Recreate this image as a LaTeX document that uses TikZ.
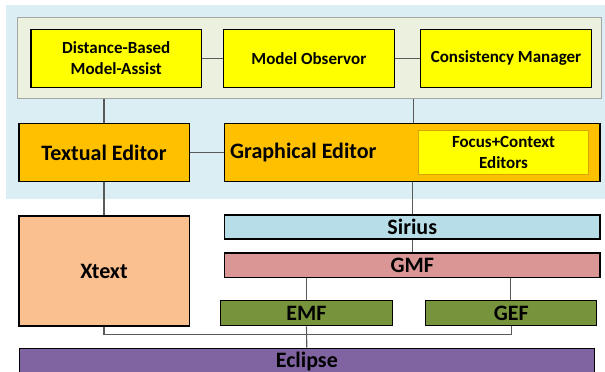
\documentclass[tikz,border=0pt]{standalone}
\usepackage{fontspec}
\setmainfont{Carlito}
\usetikzlibrary{calc}
\definecolor{bgblue}{HTML}{DAEEF3}
\definecolor{panelc}{HTML}{EBF1DE}
\definecolor{panelb}{HTML}{A6A6A6}
\definecolor{yel}{HTML}{FFFF00}
\definecolor{orng}{HTML}{FFC000}
\definecolor{focb}{HTML}{D9A400}
\definecolor{xtc}{HTML}{FAC090}
\definecolor{sirc}{HTML}{B7DEE8}
\definecolor{gmfc}{HTML}{D99694}
\definecolor{grnc}{HTML}{77933C}
\definecolor{eclc}{HTML}{8064A2}
\definecolor{linec}{HTML}{595959}
\tikzset{
  box/.style={draw=black, line width=1.5pt, inner sep=0pt, align=center, font=\bfseries\fontsize{22}{26}\selectfont},
  smallbox/.style={box, font=\bfseries\fontsize{17}{20.5}\selectfont},
  conn/.style={draw=linec, line width=1.1pt},
}
\begin{document}
\begin{tikzpicture}[x=1pt,y=-1pt]
\useasboundingbox (0,0) rectangle (605,372);
% backgrounds
\node[fill=bgblue, minimum width=600pt, minimum height=193.5pt, inner sep=0pt, anchor=north west] (bg) at (6,5) {};
\node[fill=panelc, draw=panelb, line width=0.8pt, minimum width=584pt, minimum height=81.4pt, inner sep=0pt] (panel) at (309.6,58) {};
% top row
\node[smallbox, fill=yel, minimum width=170.4pt, minimum height=58pt] (dist) at (116.2,58.3) {Distance-Based\\Model-Assist};
\node[smallbox, fill=yel, minimum width=170.8pt, minimum height=58pt] (model) at (308.9,58.3) {Model Observor};
\node[smallbox, fill=yel, minimum width=171pt, minimum height=58pt] (cons) at (506,58.3) {Consistency Manager};
% editors
\node[box, fill=orng, minimum width=170.5pt, minimum height=57.8pt] (textual) at (104,152.5) {Textual Editor};
\node[box, fill=orng, minimum width=375.5pt, minimum height=57.8pt] (graphical) at (412.25,152.5) {};
\node[anchor=west, inner sep=0pt, font=\bfseries\fontsize{22}{26}\selectfont] (glabel) at (230,153) {Graphical Editor};
\node[smallbox, fill=yel, draw=focb, line width=0.9pt, minimum width=170.5pt, minimum height=43.5pt] (focus) at (503.5,152.3) {Focus+Context\\Editors};
% lower stack
\node[box, fill=xtc, minimum width=170.5pt, minimum height=110pt] (xtext) at (104,271) {Xtext};
\node[box, fill=sirc, minimum width=375.5pt, minimum height=24pt] (sirius) at (412.25,227) {Sirius};
\node[box, fill=gmfc, minimum width=375.5pt, minimum height=24.5pt] (gmf) at (412.25,265.2) {GMF};
\node[box, fill=grnc, minimum width=171.6pt, minimum height=25pt] (emf) at (306.5,313.2) {EMF};
\node[box, fill=grnc, minimum width=171pt, minimum height=25pt] (gef) at (511.2,313.2) {GEF};
\node[box, fill=eclc, minimum width=575pt, minimum height=26pt] (eclipse) at (306.8,361.3) {Eclipse};
% connectors
\draw[conn] (dist.east) -- (model.west);
\draw[conn] (model.east) -- (cons.west);
\draw[conn] (textual.north) -- (textual.north |- panel.south);
\draw[conn] ([xshift=1.3pt]graphical.north) -- ([xshift=1.3pt]graphical.north |- panel.south);
\draw[conn] (textual.east) -- (graphical.west);
\draw[conn] (textual.south) -- (xtext.north);
\draw[conn] (graphical.south) -- (sirius.north);
\draw[conn] (sirius.south) -- (gmf.north);
\draw[conn] (emf.north) -- (emf.north |- gmf.south);
\draw[conn] ([xshift=-1pt]gef.north) -- ([xshift=-1pt]gef.north |- gmf.south);
\coordinate (busy) at (0,334.5);
\draw[conn] (xtext.south) |- (gef.south |- busy) -- (gef.south);
\draw[conn] (emf.south) -- (eclipse.north);
\end{tikzpicture}
\end{document}
